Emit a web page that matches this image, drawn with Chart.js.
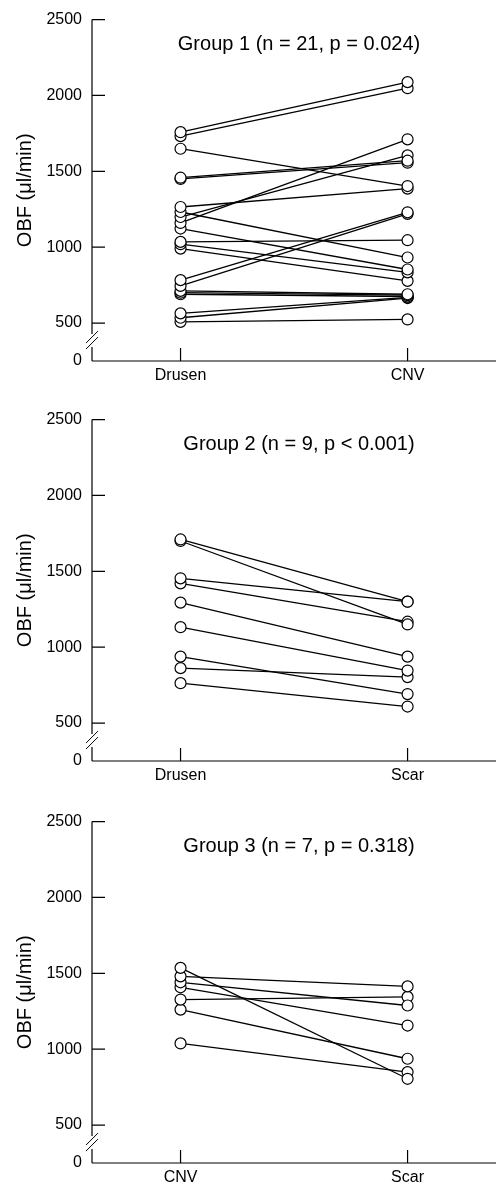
<!DOCTYPE html>
<html><head><meta charset="utf-8">
<script src="https://cdn.jsdelivr.net/npm/chart.js@4"></script>
<style>
html,body{margin:0;padding:0;background:#fff;}
#wrap{position:relative;width:496px;height:1186px;overflow:hidden;background:#fff;}
.panel{position:absolute;left:0;width:496px;height:384px;}
</style></head><body>
<div id="wrap">
<div class="panel" style="top:0px"><canvas id="c1" width="496" height="384"></canvas></div>
<div class="panel" style="top:400px"><canvas id="c2" width="496" height="384"></canvas></div>
<div class="panel" style="top:802px"><canvas id="c3" width="496" height="384"></canvas></div>
</div>
<script>
// ---- data ----
const yTickValues = [250, 500, 1000, 1500, 2000, 2500];
const yTickLabels = ['0', '500', '1000', '1500', '2000', '2500'];
const yAxisTitle = 'OBF (\u03bcl/min)';

const g1Title = 'Group 1 (n = 21, p = 0.024)';
const g1Categories = ['Drusen', 'CNV'];
const g1Before = [1758, 1732, 1649, 1458, 1450, 1265, 1232, 1199, 1160, 1123, 1035, 1020, 991, 783, 745, 712, 700, 690, 564, 535, 508];
const g1After  = [2088, 2048, 1403, 1570, 1557, 1386, 932, 1605, 1711, 853, 1046, 834, 778, 1230, 1220, 690, 684, 675, 669, 665, 524];

const g2Title = 'Group 2 (n = 9, p < 0.001)';
const g2Categories = ['Drusen', 'Scar'];
const g2Before = [1710, 1700, 1454, 1421, 1294, 1132, 938, 862, 763];
const g2After  = [1300, 1150, 1300, 1168, 938, 846, 691, 803, 609];

const g3Title = 'Group 3 (n = 7, p = 0.318)';
const g3Categories = ['CNV', 'Scar'];
const g3Before = [1536, 1480, 1441, 1408, 1327, 1261, 1038];
const g3After  = [805, 1414, 1288, 1156, 1345, 937, 849];

// ---- drawing ----
const FONT = "'Liberation Sans', Arial, Helvetica, sans-serif";
const CHART_BOTTOM = 361;

const decor = {
  id: 'decor',
  afterDraw(chart, args, opts) {
    const ctx = chart.ctx, ca = chart.chartArea;
    const xs = chart.scales.x, ys = chart.scales.y;
    const ax = ca.left;
    ctx.save();
    ctx.strokeStyle = '#000';
    ctx.lineWidth = 1.2;
    const y500 = ys.getPixelForValue(500);
    const yTop = ys.getPixelForValue(2500);
    ctx.beginPath();
    ctx.moveTo(ax, yTop); ctx.lineTo(ax, y500 + 11);
    ctx.moveTo(ax, y500 + 24); ctx.lineTo(ax, ca.bottom);
    ctx.moveTo(ax, ca.bottom); ctx.lineTo(chart.width, ca.bottom);
    yTickValues.forEach(v => {
      const y = ys.getPixelForValue(v);
      ctx.moveTo(ax, y); ctx.lineTo(ax + 13, y);
    });
    [0, 1].forEach(i => {
      const x = xs.getPixelForValue(i);
      ctx.moveTo(x, ca.bottom); ctx.lineTo(x, ca.bottom - 13);
    });
    ctx.stroke();
    // axis break slashes
    ctx.lineWidth = 1;
    ctx.beginPath();
    [y500 + 14, y500 + 20].forEach(yc => {
      ctx.moveTo(ax - 6, yc + 6); ctx.lineTo(ax + 6, yc - 6);
    });
    ctx.stroke();
    // panel title
    ctx.fillStyle = '#000';
    ctx.font = '20px ' + FONT;
    ctx.textAlign = 'center';
    ctx.textBaseline = 'alphabetic';
    ctx.fillText(opts.text, 299, 49.5);
    ctx.restore();
  }
};

function makeChart(id, title, cats, before, after) {
  const datasets = before.map((b, i) => ({
    data: [{x: 0, y: b}, {x: 1, y: after[i]}],
    showLine: true,
    borderColor: '#000',
    borderWidth: 1.3,
    pointRadius: 5.5,
    pointBorderWidth: 1.2,
    pointBackgroundColor: '#fff',
    pointBorderColor: '#000',
    clip: false
  }));
  const canvas = document.getElementById(id);
  return new Chart(canvas, {
    type: 'scatter',
    data: {datasets},
    plugins: [decor],
    options: {
      responsive: false,
      animation: false,
      devicePixelRatio: 1,
      layout: {padding: {top: 19, right: 0, left: 0, bottom: 0}},
      plugins: {legend: {display: false}, tooltip: {enabled: false}, decor: {text: title}},
      scales: {
        x: {
          type: 'linear', min: -0.39, max: 1.36,
          grid: {display: false, drawTicks: false},
          border: {display: false},
          afterBuildTicks: s => { s.ticks = [0, 1].map(v => ({value: v})); },
          afterFit: s => { s.height = canvas.height - CHART_BOTTOM; },
          ticks: {
            autoSkip: false, maxRotation: 0, padding: 5,
            color: '#000', font: {family: FONT, size: 16},
            callback: v => cats[v]
          }
        },
        y: {
          type: 'linear', min: 250, max: 2500,
          grid: {display: false, drawTicks: false},
          border: {display: false},
          afterBuildTicks: s => { s.ticks = yTickValues.map(v => ({value: v})); },
          afterFit: s => { s.width = 92; },
          ticks: {
            autoSkip: false, padding: 10,
            color: '#000', font: {family: FONT, size: 16},
            callback: v => yTickLabels[yTickValues.indexOf(v)]
          },
          title: {
            display: true, text: yAxisTitle, color: '#000',
            font: {family: FONT, size: 20}, padding: {top: 13, bottom: 0}
          }
        }
      }
    }
  });
}

makeChart('c1', g1Title, g1Categories, g1Before, g1After);
makeChart('c2', g2Title, g2Categories, g2Before, g2After);
makeChart('c3', g3Title, g3Categories, g3Before, g3After);
</script>
</body></html>
